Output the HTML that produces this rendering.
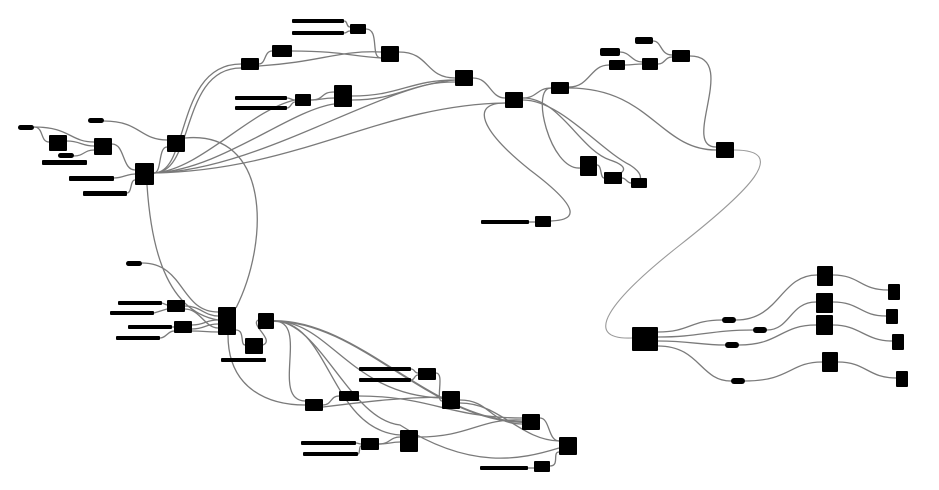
<!DOCTYPE html>
<html><head><meta charset="utf-8"><style>
html,body{margin:0;padding:0;background:#fff;width:939px;height:490px;overflow:hidden}
svg{display:block}
</style></head><body>
<svg width="939" height="490" xmlns="http://www.w3.org/2000/svg">
<g fill="none" stroke="#7a7a7a" stroke-width="1.3">
<path d="M34 127 C44 127,40 142,49 142"/>
<path d="M34 127 C70 127,70 142,94 142"/>
<path d="M67 141 C80 141,82 146,94 146"/>
<path d="M74 156 C84 156,84 150,94 150"/>
<path d="M112 144 C125 144,122 170,135 170"/>
<path d="M114 178 C124 178,126 174,135 174"/>
<path d="M127 193 C132 193,130 180,135 180"/>
<path d="M104 121 C140 121,140 140,167 140"/>
<path d="M154 173 C162 173,158 147,167 147"/>
<path d="M154 173 C190 173,175 64,241 64"/>
<path d="M154 173 C195 173,180 68,241 68"/>
<path d="M154 173 C200 170,250 110,295 100"/>
<path d="M154 173 C220 170,290 110,334 104"/>
<path d="M154 173 C260 170,380 85,455 80"/>
<path d="M154 173 C300 170,380 105,505 103"/>
<path d="M147 185 C150 230,160 310,218 320"/>
<path d="M185 138 C270 130,270 240,236 308"/>
<path d="M259 64 C266 64,264 51,272 51"/>
<path d="M259 66 C320 62,340 50,381 52"/>
<path d="M292 51 C340 51,350 56,381 58"/>
<path d="M344 21 C348 21,346 27,350 27"/>
<path d="M344 33 C348 33,346 31,350 31"/>
<path d="M366 29 C380 29,370 58,381 58"/>
<path d="M399 52 C430 52,425 78,455 78"/>
<path d="M287 98 C291 98,291 100,295 100"/>
<path d="M287 108 C291 108,291 102,295 102"/>
<path d="M311 100 C322 100,322 98,334 98"/>
<path d="M311 100 C325 100,320 92,334 92"/>
<path d="M352 96 C400 96,410 80,455 80"/>
<path d="M352 100 C400 100,410 82,455 82"/>
<path d="M473 78 C490 78,490 98,505 98"/>
<path d="M523 98 C537 98,537 88,551 88"/>
<path d="M569 87 C590 87,590 65,609 65"/>
<path d="M620 52 C630 52,632 62,642 62"/>
<path d="M625 65 C633 65,634 64,642 64"/>
<path d="M653 41 C662 41,660 55,672 55"/>
<path d="M658 64 C665 64,665 57,672 57"/>
<path d="M690 56 C740 56,680 147,716 147"/>
<path d="M569 88 C650 88,660 150,716 150"/>
<path d="M523 98 C560 98,580 150,610 160 C640 170,612 178,604 178"/>
<path d="M523 100 C560 100,600 150,630 165 C650 178,636 185,631 183"/>
<path d="M551 88 C530 88,550 170,580 168"/>
<path d="M597 165 C602 165,600 178,604 178"/>
<path d="M622 178 C626 178,627 183,631 183"/>
<path d="M505 103 C470 103,480 130,530 170 C590 215,570 220,551 221"/>
<path d="M529 222 L535 222"/>
<path d="M734 150 C790 150,750 190,680 245 C610 300,580 340,632 338" stroke="#999" stroke-width="1.1"/>
<path d="M142 263 C185 263,180 312,218 312"/>
<path d="M162 303 L167 305"/>
<path d="M154 313 L167 309"/>
<path d="M172 327 L174 327"/>
<path d="M160 338 C166 338,168 331,174 331"/>
<path d="M185 306 C200 306,205 316,218 316"/>
<path d="M185 309 C200 309,205 328,218 328"/>
<path d="M192 325 C205 325,205 320,218 320"/>
<path d="M192 329 C205 329,205 324,218 324"/>
<path d="M192 331 C205 331,205 332,218 332"/>
<path d="M236 330 C245 330,240 345,245 345"/>
<path d="M263 345 C275 340,250 325,258 320"/>
<path d="M228 335 C228 390,270 405,305 405"/>
<path d="M274 321 C310 321,270 400,305 401"/>
<path d="M274 321 C330 321,350 395,442 398"/>
<path d="M274 321 C360 321,430 420,522 422" stroke-width="2"/>
<path d="M274 321 C320 321,350 420,400 425 C470 470,520 460,559 448"/>
<path d="M274 321 C330 321,330 430,400 435"/>
<path d="M411 369 C415 369,414 373,418 373"/>
<path d="M411 380 C415 380,414 375,418 375"/>
<path d="M436 373 C445 373,435 401,442 401"/>
<path d="M323 405 C332 405,330 396,339 396"/>
<path d="M323 407 C380 400,400 398,442 397"/>
<path d="M359 396 C430 396,450 418,522 418"/>
<path d="M460 400 C490 400,490 424,522 424"/>
<path d="M460 403 C500 403,520 440,559 441"/>
<path d="M418 437 C470 437,480 418,522 420"/>
<path d="M356 443 C358 443,359 444,361 444"/>
<path d="M358 454 C360 454,359 446,361 446"/>
<path d="M379 444 C390 444,390 437,400 437"/>
<path d="M379 444 C390 444,390 442,400 442"/>
<path d="M540 418 C550 418,548 441,559 441"/>
<path d="M528 468 L534 468"/>
<path d="M550 466 C560 466,552 452,559 452"/>
<path d="M658 332 C690 332,690 320,722 320"/>
<path d="M736 320 C780 320,780 275,817 275"/>
<path d="M658 337 C700 337,710 330,753 330"/>
<path d="M767 330 C790 330,790 302,816 302"/>
<path d="M658 341 C690 341,700 345,725 345"/>
<path d="M739 345 C780 345,780 325,816 325"/>
<path d="M658 346 C700 346,700 381,731 381"/>
<path d="M745 381 C790 381,790 362,822 362"/>
<path d="M833 275 C860 275,860 290,888 290"/>
<path d="M833 302 C860 302,860 316,886 316"/>
<path d="M833 325 C860 325,865 341,892 341"/>
<path d="M838 362 C866 362,868 378,896 378"/>
</g>
<g fill="#000">
<rect x="18" y="125" width="16" height="5" rx="2.5"/>
<rect x="49" y="135" width="18" height="16" rx="1"/>
<rect x="58" y="153" width="16" height="5" rx="2.5"/>
<rect x="42" y="160" width="45" height="5" rx="1"/>
<rect x="94" y="138" width="18" height="17" rx="1"/>
<rect x="88" y="118" width="16" height="5" rx="2.5"/>
<rect x="69" y="176" width="45" height="5" rx="1"/>
<rect x="83" y="191" width="44" height="5" rx="1"/>
<rect x="135" y="163" width="19" height="22" rx="1"/>
<rect x="167" y="135" width="18" height="17" rx="1"/>
<rect x="241" y="58" width="18" height="12" rx="1"/>
<rect x="272" y="45" width="20" height="12" rx="1"/>
<rect x="292" y="19" width="52" height="4" rx="1"/>
<rect x="292" y="31" width="52" height="4" rx="1"/>
<rect x="350" y="24" width="16" height="10" rx="1"/>
<rect x="381" y="46" width="18" height="16" rx="1"/>
<rect x="235" y="96" width="52" height="4" rx="1"/>
<rect x="235" y="106" width="52" height="4" rx="1"/>
<rect x="295" y="94" width="16" height="12" rx="1"/>
<rect x="334" y="85" width="18" height="22" rx="1"/>
<rect x="455" y="70" width="18" height="16" rx="1"/>
<rect x="505" y="92" width="18" height="16" rx="1"/>
<rect x="551" y="82" width="18" height="12" rx="1"/>
<rect x="600" y="48" width="20" height="8" rx="2"/>
<rect x="635" y="37" width="18" height="7" rx="2"/>
<rect x="609" y="60" width="16" height="10" rx="1"/>
<rect x="642" y="58" width="16" height="12" rx="1"/>
<rect x="672" y="50" width="18" height="12" rx="1"/>
<rect x="716" y="142" width="18" height="16" rx="1"/>
<rect x="580" y="156" width="17" height="20" rx="1"/>
<rect x="604" y="172" width="18" height="12" rx="1"/>
<rect x="631" y="178" width="16" height="10" rx="1"/>
<rect x="481" y="220" width="48" height="4" rx="1"/>
<rect x="535" y="216" width="16" height="11" rx="1"/>
<rect x="126" y="261" width="16" height="5" rx="2.5"/>
<rect x="118" y="301" width="44" height="4" rx="1"/>
<rect x="110" y="311" width="44" height="4" rx="1"/>
<rect x="128" y="325" width="44" height="4" rx="1"/>
<rect x="116" y="336" width="44" height="4" rx="1"/>
<rect x="167" y="300" width="18" height="12" rx="1"/>
<rect x="174" y="321" width="18" height="12" rx="1"/>
<rect x="218" y="307" width="18" height="28" rx="1"/>
<rect x="258" y="313" width="16" height="16" rx="1"/>
<rect x="245" y="338" width="18" height="16" rx="1"/>
<rect x="221" y="358" width="45" height="4" rx="1"/>
<rect x="359" y="367" width="52" height="4" rx="1"/>
<rect x="359" y="378" width="52" height="4" rx="1"/>
<rect x="418" y="368" width="18" height="12" rx="1"/>
<rect x="305" y="399" width="18" height="12" rx="1"/>
<rect x="339" y="391" width="20" height="10" rx="1"/>
<rect x="442" y="391" width="18" height="18" rx="1"/>
<rect x="522" y="414" width="18" height="16" rx="1"/>
<rect x="301" y="441" width="55" height="4" rx="1"/>
<rect x="303" y="452" width="55" height="4" rx="1"/>
<rect x="361" y="438" width="18" height="12" rx="1"/>
<rect x="400" y="430" width="18" height="22" rx="1"/>
<rect x="559" y="437" width="18" height="18" rx="1"/>
<rect x="480" y="466" width="48" height="4" rx="1"/>
<rect x="534" y="461" width="16" height="11" rx="1"/>
<rect x="632" y="327" width="26" height="24" rx="1"/>
<rect x="722" y="317" width="14" height="6" rx="3"/>
<rect x="753" y="327" width="14" height="6" rx="3"/>
<rect x="725" y="342" width="14" height="6" rx="3"/>
<rect x="731" y="378" width="14" height="6" rx="3"/>
<rect x="817" y="266" width="16" height="20" rx="1"/>
<rect x="816" y="293" width="17" height="20" rx="1"/>
<rect x="816" y="315" width="17" height="20" rx="1"/>
<rect x="822" y="352" width="16" height="20" rx="1"/>
<rect x="888" y="284" width="12" height="16" rx="1"/>
<rect x="886" y="309" width="12" height="15" rx="1"/>
<rect x="892" y="334" width="12" height="16" rx="1"/>
<rect x="896" y="371" width="12" height="16" rx="1"/>
</g>
</svg>
</body></html>
